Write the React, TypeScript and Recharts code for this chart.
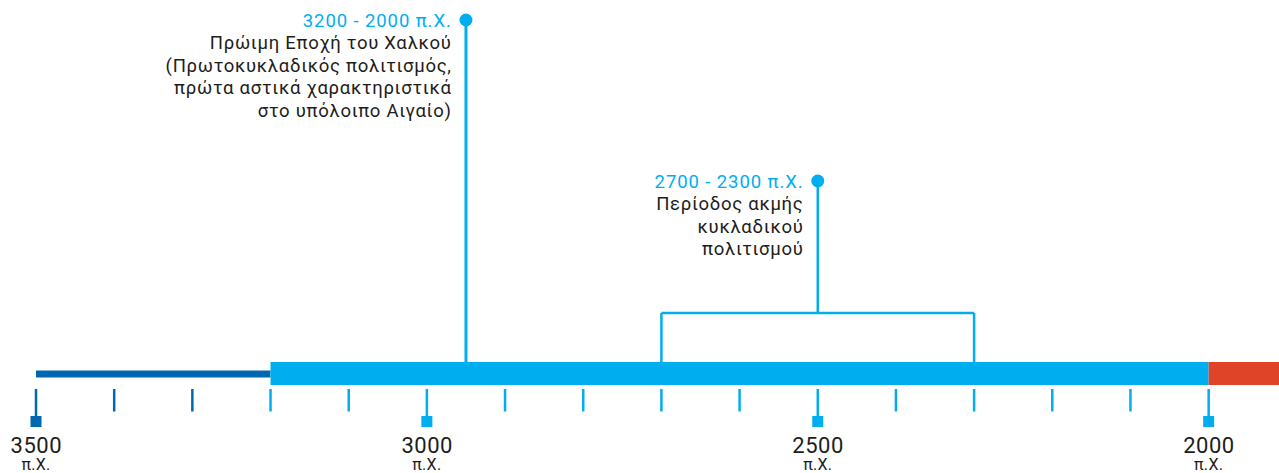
import React from 'react'
import {
  ComposedChart,
  XAxis,
  YAxis,
  Scatter,
  ReferenceArea,
  ReferenceLine,
} from 'recharts'

// timeline data (years BC)
const tickYears = [3500, 3400, 3300, 3200, 3100, 3000, 2900, 2800, 2700, 2600, 2500, 2400, 2300, 2200, 2100, 2000]
const majorYears = [3500, 3000, 2500, 2000]
const periodNames = ['Νεολιθική', 'Εποχή του Χαλκού', 'Μεταγενέστερη']
const periodStarts = [3500, 3200, 2000]
const periodEnds = [3200, 2000, 1910]
const eventYears = [2950, 2500]
const eventTitles = ['3200 - 2000 π.Χ.', '2700 - 2300 π.Χ.']
const eventLines = [
  ['Πρώιμη Εποχή του Χαλκού', '(Πρωτοκυκλαδικός πολιτισμός,', 'πρώτα αστικά χαρακτηριστικά', 'στο υπόλοιπο Αιγαίο)'],
  ['Περίοδος ακμής', 'κυκλαδικού', 'πολιτισμού'],
]
const bracketStart = 2700
const bracketEnd = 2300

const DARK = '#0067b1'
const BLUE = '#00aeef'
const RED = '#df4328'
const TEXT = '#1d1d1b'
const FONT = 'Roboto, "Noto Sans", sans-serif'

// vertical layout (y axis runs top → bottom in pixels of the plot area)
const PLOT_H = 389
const BAR_TOP = 362
const BAR_BOTTOM = 385
const THIN_TOP = 370.5
const THIN_BOTTOM = 377.5
const PIN_TOPS = [20, 181]
const BRACKET_Y = 313

const periodStyles = [
  { fill: DARK, y1: THIN_TOP, y2: THIN_BOTTOM },
  { fill: BLUE, y1: BAR_TOP, y2: BAR_BOTTOM },
  { fill: RED, y1: BAR_TOP, y2: BAR_BOTTOM },
]

const pins = eventYears.map((year, i) => ({
  year,
  y: PIN_TOPS[i],
  title: eventTitles[i],
  lines: eventLines[i],
}))

const TimelineTick = (props: any) => {
  const { x, y, payload } = props
  const year = payload.value as number
  const major = majorYears.includes(year)
  const color = year > 3200 ? DARK : BLUE
  return (
    <g>
      <line x1={x} x2={x} y1={y} y2={y + (major ? 28 : 22.5)} stroke={color} strokeWidth={2.5} />
      {major && <rect x={x - 5.5} y={y + 27} width={11} height={11} fill={color} />}
      {major && (
        <text x={x + 0.3} y={y + 64} textAnchor="middle" fontSize={22} letterSpacing={0.5} fontFamily={FONT} fill={TEXT}>
          {year}
        </text>
      )}
      {major && (
        <text x={x} y={y + 81} textAnchor="middle" fontSize={16} letterSpacing={0.3} fontFamily={FONT} fill={TEXT}>
          π.Χ.
        </text>
      )}
    </g>
  )
}

const PinHead = (props: any) => {
  const { cx, cy, payload } = props
  const tx = cx - 14.3
  return (
    <g>
      <circle cx={cx} cy={cy} r={6.5} fill={BLUE} />
      <text x={tx} y={cy + 6.5} textAnchor="end" fontSize={18.5} letterSpacing={0.9} fontFamily={FONT} fill={BLUE}>
        {payload.title}
      </text>
      {payload.lines.map((line: string, i: number) => (
        <text
          key={i}
          x={tx}
          y={cy + 6.5 + 22.6 * (i + 1)}
          textAnchor="end"
          fontSize={18.5}
          letterSpacing={0.7}
          fontFamily={FONT}
          fill={TEXT}
        >
          {line}
        </text>
      ))}
    </g>
  )
}

export default function App() {
  return (
    <div style={{ position: 'absolute', left: 0, top: 0, width: 1279, height: 473, background: '#fff' }}>
      <ComposedChart width={1279} height={473} data={pins} margin={{ top: 0, right: 0, left: 36, bottom: 0 }}>
        <XAxis
          type="number"
          dataKey="year"
          domain={[1910, 3500]}
          reversed
          ticks={tickYears}
          interval={0}
          axisLine={false}
          tickLine={false}
          tickSize={0}
          tickMargin={0}
          height={473 - PLOT_H}
          tick={<TimelineTick />}
        />
        <YAxis type="number" dataKey="y" domain={[0, PLOT_H]} reversed hide />

        {periodNames.map((name, i) => (
          <ReferenceArea
            key={name}
            x1={periodStarts[i]}
            x2={periodEnds[i]}
            y1={periodStyles[i].y1}
            y2={periodStyles[i].y2}
            fill={periodStyles[i].fill}
            fillOpacity={1}
            stroke="none"
          />
        ))}

        {/* pin stems */}
        <ReferenceLine
          segment={[{ x: eventYears[0], y: PIN_TOPS[0] }, { x: eventYears[0], y: BAR_TOP }]}
          stroke={BLUE}
          strokeWidth={3}
        />
        <ReferenceLine
          segment={[{ x: eventYears[1], y: PIN_TOPS[1] }, { x: eventYears[1], y: BRACKET_Y }]}
          stroke={BLUE}
          strokeWidth={2.5}
        />
        {/* bracket for 2700 - 2300 */}
        <ReferenceLine
          segment={[{ x: bracketStart, y: BRACKET_Y }, { x: bracketEnd, y: BRACKET_Y }]}
          stroke={BLUE}
          strokeWidth={2.5}
        />
        <ReferenceLine
          segment={[{ x: bracketStart, y: BRACKET_Y }, { x: bracketStart, y: BAR_TOP }]}
          stroke={BLUE}
          strokeWidth={2.5}
        />
        <ReferenceLine
          segment={[{ x: bracketEnd, y: BRACKET_Y }, { x: bracketEnd, y: BAR_TOP }]}
          stroke={BLUE}
          strokeWidth={2.5}
        />

        <Scatter dataKey="y" shape={<PinHead />} isAnimationActive={false} />
      </ComposedChart>
    </div>
  )
}
